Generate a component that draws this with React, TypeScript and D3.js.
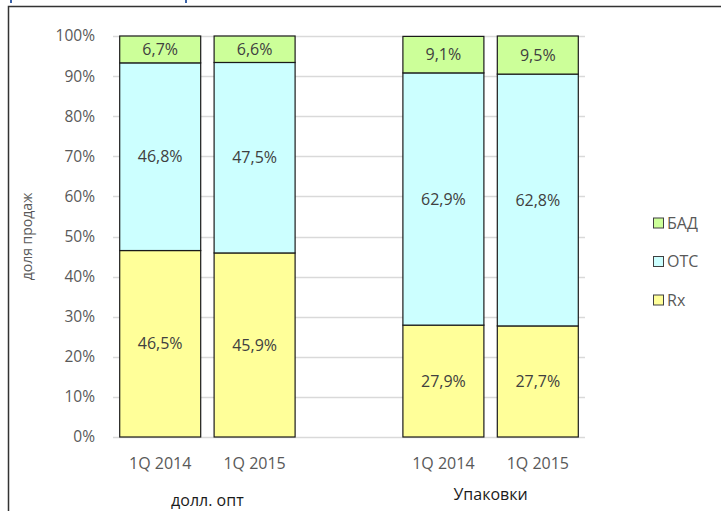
import React, { useEffect, useRef } from 'react';
import * as d3 from 'd3';

// slots: две группы по два квартала, пустой слот между ними
const categories = ['1Q 2014', '1Q 2015', '', '1Q 2014', '1Q 2015'];
const groups = ['долл. опт', 'Упаковки'];
const seriesNames = ['Rx', 'OTC', 'БАД'];
const legendLabels = ['БАД', 'ОТС', 'Rx'];
const rxValues = [46.5, 45.9, null, 27.9, 27.7];
const otcValues = [46.8, 47.5, null, 62.9, 62.8];
const badValues = [6.7, 6.6, null, 9.1, 9.5];
const yTicks = [0, 10, 20, 30, 40, 50, 60, 70, 80, 90, 100];

const colors: Record<string, string> = { Rx: '#ffff99', OTC: '#ccffff', 'БАД': '#ccff99' };
const legendColorKey: Record<string, string> = { 'БАД': 'БАД', 'ОТС': 'OTC', Rx: 'Rx' };

const FONT = '"Open Sans", "Noto Sans", sans-serif';

const App = () => {
  const svgRef = useRef<SVGSVGElement>(null);

  useEffect(() => {
    const width = 721;
    const height = 511;
    const plot = { left: 113, right: 585, top: 36, bottom: 437 };

    const svg = d3.select(svgRef.current);
    svg.selectAll('*').remove();

    // рамка и обрезанный заголовок сверху
    svg.append('rect')
      .attr('x', 8.5).attr('y', 6.5)
      .attr('width', width).attr('height', height)
      .attr('fill', '#fff')
      .attr('stroke', '#333').attr('stroke-width', 1.5);
    svg.append('rect').attr('x', 10).attr('y', 0).attr('width', 2).attr('height', 3).attr('fill', '#3a62a8');
    svg.append('rect').attr('x', 185).attr('y', 0).attr('width', 2).attr('height', 3).attr('fill', '#3a62a8');

    const x = d3.scaleBand<number>()
      .domain(categories.map((_, i) => i))
      .range([plot.left, plot.right])
      .paddingInner(0.142)
      .paddingOuter(0.071);

    const y = d3.scaleLinear().domain([0, 100]).range([plot.bottom, plot.top]);

    // сетка
    svg.append('g')
      .selectAll('line')
      .data(yTicks)
      .join('line')
      .attr('x1', plot.left).attr('x2', plot.right)
      .attr('y1', d => Math.round(y(d)) + 0.5).attr('y2', d => Math.round(y(d)) + 0.5)
      .attr('stroke', '#d9d9d9').attr('stroke-width', 1.3);

    svg.append('g')
      .selectAll('text')
      .data(yTicks)
      .join('text')
      .attr('x', 95)
      .attr('y', d => y(d))
      .attr('dy', '0.35em')
      .attr('text-anchor', 'end')
      .style('font-family', FONT)
      .style('font-size', '15.5px')
      .style('fill', '#595959')
      .text(d => `${d}%`);

    const rows = categories.map((c, i) => ({
      i,
      Rx: rxValues[i] ?? 0,
      OTC: otcValues[i] ?? 0,
      'БАД': badValues[i] ?? 0,
      empty: rxValues[i] == null,
    }));

    const stacked = d3.stack<any>().keys(seriesNames)(rows);

    stacked.forEach(layer => {
      const g = svg.append('g');
      const pts = layer.filter(d => !d.data.empty);
      g.selectAll('rect')
        .data(pts)
        .join('rect')
        .attr('x', d => x(d.data.i)!)
        .attr('width', x.bandwidth())
        .attr('y', d => y(d[1]))
        .attr('height', d => y(d[0]) - y(d[1]))
        .attr('fill', colors[layer.key])
        .attr('stroke', '#1a1a1a')
        .attr('stroke-width', 1.2);
      g.selectAll('text')
        .data(pts)
        .join('text')
        .attr('x', d => x(d.data.i)! + x.bandwidth() / 2)
        .attr('y', d => y((d[0] + d[1]) / 2))
        .attr('dy', '0.35em')
        .attr('text-anchor', 'middle')
        .style('font-family', FONT)
        .style('font-size', '16px')
        .style('fill', '#404040')
        .text(d => `${d.data[layer.key].toFixed(1).replace('.', ',')}%`);
    });

    // подписи категорий
    svg.append('g')
      .selectAll('text')
      .data(categories.map((c, i) => ({ c, i })).filter(d => d.c))
      .join('text')
      .attr('x', d => x(d.i)! + x.bandwidth() / 2)
      .attr('y', 463)
      .attr('dy', '0.35em')
      .attr('text-anchor', 'middle')
      .style('font-family', FONT)
      .style('font-size', '16px')
      .style('fill', '#595959')
      .text(d => d.c);

    // подписи групп
    const groupY = [500, 494];
    groups.forEach((g, gi) => {
      const a = x(gi * 3)!;
      const b = x(gi * 3 + 1)! + x.bandwidth();
      svg.append('text')
        .attr('x', (a + b) / 2)
        .attr('y', groupY[gi])
        .attr('dy', '0.35em')
        .attr('text-anchor', 'middle')
        .style('font-family', FONT)
        .style('font-size', '16px')
        .style('fill', '#1a1a1a')
        .text(g);
    });

    // подпись оси Y
    svg.append('text')
      .attr('transform', `translate(27,${(plot.top + plot.bottom) / 2}) rotate(-90)`)
      .attr('dy', '0.35em')
      .attr('text-anchor', 'middle')
      .style('font-family', FONT)
      .style('font-size', '14px')
      .style('fill', '#595959')
      .text('доля продаж');

    // легенда
    const legend = svg.append('g');
    legendLabels.forEach((l, li) => {
      const cy = 223 + li * 38.5;
      legend.append('rect')
        .attr('x', 653.5).attr('y', cy - 5)
        .attr('width', 10).attr('height', 10)
        .attr('fill', colors[legendColorKey[l]])
        .attr('stroke', '#404040');
      legend.append('text')
        .attr('x', 667).attr('y', cy)
        .attr('dy', '0.35em')
        .style('font-family', FONT)
        .style('font-size', '16px')
        .style('fill', '#595959')
        .text(l);
    });
  }, []);

  return (
    <svg
      ref={svgRef}
      width={721}
      height={511}
      style={{ position: 'absolute', left: 0, top: 0, background: '#fff' }}
    />
  );
};

export default App;
